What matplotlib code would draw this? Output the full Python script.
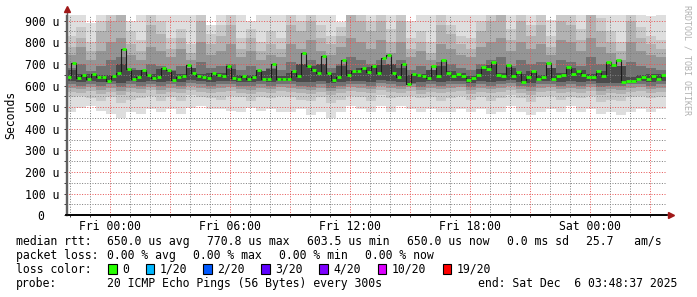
import numpy as np
import matplotlib
matplotlib.use("Agg")
import matplotlib.pyplot as plt
from matplotlib.patches import Rectangle
from matplotlib.lines import Line2D

W, H = 697, 297
MONO = "DejaVu Sans Mono"
FS = 8.3

# time in hours relative to Fri 00:00 (end = Sat 03:48:37)
t_start = -2.1897
t_end = 27.8103

# median rtt in microseconds, one value per 15 minutes
median_us = [638, 705, 636, 650, 630, 655, 640, 640, 620, 645, 660, 770, 675, 630, 640, 670, 650, 635, 640, 680,
             670, 625, 640, 645, 697, 660, 645, 640, 635, 660, 650, 645, 690, 635, 632, 645, 630, 640, 672, 632,
             630, 700, 632, 632, 628, 665, 645, 752, 690, 672, 660, 735, 660, 625, 640, 720, 650, 665, 666, 680,
             662, 688, 660, 728, 740, 660, 640, 700, 608, 655, 648, 642, 635, 690, 645, 716, 660, 645, 655, 645,
             625, 635, 650, 686, 675, 709, 648, 645, 693, 645, 662, 618, 640, 665, 632, 640, 705, 632, 642, 650,
             686, 655, 666, 650, 640, 640, 668, 645, 709, 693, 716, 618, 622, 620, 632, 640, 632, 645, 632, 650]

# smoke bands (low / high edge), one value per 30 minutes, microseconds; a = outermost
lo_a = [478, 495, 505, 480, 470, 450, 478, 470, 490, 478, 490, 470, 495, 505, 490, 490, 480, 478, 495, 480,
        492, 478, 478, 492, 465, 478, 450, 478, 505, 492, 478, 505, 478, 505, 492, 478, 492, 478, 478, 492,
        478, 492, 470, 478, 505, 478, 465, 478, 492, 478, 505, 478, 492, 470, 478, 465, 478, 492, 478, 492]
hi_a = [940, 940, 890, 940, 940, 940, 900, 940, 940, 940, 940, 940, 940, 940, 880, 940, 910, 940, 900, 940,
        940, 940, 870, 940, 940, 940, 940, 895, 940, 940, 940, 940, 940, 940, 900, 940, 940, 910, 940, 940,
        940, 940, 940, 940, 940, 940, 940, 940, 905, 940, 940, 940, 890, 940, 940, 940, 900, 940, 920, 940]
lo_b = [545, 550, 540, 530, 545, 520, 535, 540, 550, 530, 545, 530, 555, 545, 540, 535, 550, 545, 530, 545,
        540, 550, 545, 535, 530, 545, 520, 535, 550, 545, 530, 555, 540, 545, 550, 540, 545, 530, 540, 550,
        535, 545, 530, 540, 555, 540, 525, 545, 550, 535, 545, 540, 550, 525, 535, 530, 545, 550, 540, 545]
hi_b = [830, 870, 800, 900, 940, 940, 850, 810, 940, 900, 820, 860, 790, 940, 840, 880, 940, 820, 860, 800,
        850, 820, 940, 900, 940, 880, 830, 870, 940, 940, 900, 940, 860, 940, 820, 850, 800, 940, 880, 830,
        820, 900, 940, 940, 860, 940, 880, 940, 830, 940, 940, 860, 940, 910, 850, 800, 940, 870, 830, 810]
lo_c = [570, 565, 575, 560, 570, 555, 570, 565, 580, 560, 570, 565, 580, 570, 565, 570, 575, 565, 560, 570,
        565, 575, 570, 565, 560, 570, 555, 565, 575, 570, 565, 580, 570, 565, 575, 560, 570, 565, 570, 575,
        560, 570, 565, 570, 580, 565, 555, 570, 575, 565, 570, 565, 575, 555, 565, 560, 570, 575, 565, 570]
hi_c = [780, 820, 760, 850, 900, 940, 790, 760, 880, 840, 770, 820, 750, 900, 790, 830, 880, 770, 820, 760,
        790, 770, 880, 850, 900, 820, 790, 830, 940, 900, 850, 900, 800, 900, 770, 800, 750, 880, 840, 790,
        770, 850, 900, 940, 810, 900, 830, 880, 780, 900, 880, 810, 940, 850, 800, 760, 900, 820, 790, 770]
lo_d = [590, 585, 595, 580, 590, 575, 590, 585, 595, 580, 590, 585, 600, 590, 585, 590, 595, 585, 580, 590,
        585, 595, 590, 585, 580, 590, 575, 585, 595, 590, 585, 600, 590, 585, 595, 580, 590, 585, 590, 595,
        580, 590, 585, 590, 600, 585, 575, 590, 595, 585, 590, 585, 595, 575, 585, 580, 590, 595, 585, 590]
hi_d = [740, 780, 720, 760, 800, 820, 740, 720, 780, 760, 730, 770, 720, 800, 740, 760, 790, 730, 760, 720,
        740, 730, 790, 770, 810, 760, 740, 780, 820, 800, 770, 810, 750, 800, 730, 760, 720, 790, 770, 740,
        730, 780, 800, 820, 760, 800, 770, 790, 740, 810, 800, 760, 820, 780, 750, 720, 800, 760, 740, 730]
lo_e = [605, 600, 608, 598, 605, 592, 605, 600, 608, 598, 605, 600, 610, 605, 598, 605, 608, 600, 598, 605,
        600, 608, 605, 600, 595, 605, 588, 600, 608, 605, 600, 610, 605, 600, 608, 595, 605, 600, 605, 608,
        595, 605, 600, 605, 610, 600, 592, 605, 608, 600, 605, 600, 608, 592, 600, 598, 605, 608, 600, 605]
hi_e = [680, 700, 665, 690, 720, 730, 680, 670, 700, 690, 670, 690, 665, 710, 680, 690, 700, 670, 690, 665,
        680, 670, 710, 700, 720, 690, 680, 700, 730, 720, 700, 720, 690, 720, 670, 690, 665, 710, 700, 680,
        670, 700, 720, 730, 690, 720, 700, 710, 680, 720, 710, 690, 730, 700, 685, 665, 710, 690, 680, 670]
lo_f = [620, 618, 622, 615, 620, 612, 620, 618, 622, 615, 620, 618, 625, 620, 615, 620, 622, 618, 615, 620,
        618, 622, 620, 618, 615, 620, 610, 618, 622, 620, 618, 625, 620, 618, 612, 615, 620, 618, 620, 622,
        612, 620, 618, 620, 625, 615, 610, 620, 622, 618, 620, 618, 622, 610, 612, 612, 620, 622, 618, 620]
hi_f = [670, 655, 655, 650, 650, 700, 670, 670, 655, 675, 665, 655, 680, 655, 660, 660, 675, 650, 648, 665,
        675, 645, 660, 700, 690, 700, 660, 690, 670, 680, 685, 695, 700, 680, 650, 655, 670, 690, 665, 660,
        645, 675, 695, 660, 680, 655, 665, 650, 680, 660, 680, 670, 652, 665, 700, 690, 640, 650, 652, 655]

band_colors = ["#dedede", "#c9c9c9", "#b2b2b2", "#959595", "#727272", "#4a4a4a"]

y_ticks = [0, 100, 200, 300, 400, 500, 600, 700, 800, 900]
y_labels = ["0  ", "100 u", "200 u", "300 u", "400 u", "500 u", "600 u", "700 u", "800 u", "900 u"]
x_label_hours = [0, 6, 12, 18, 24]
x_labels = ["Fri 00:00", "Fri 06:00", "Fri 12:00", "Fri 18:00", "Sat 00:00"]

loss_labels = ["0", "1/20", "2/20", "3/20", "4/20", "10/20", "19/20"]
loss_colors = ["#26ff00", "#00b8ff", "#0059ff", "#5e00ff", "#7e00ff", "#dd00ff", "#ff0000"]

stats_rtt = ["650.0 us avg", "770.8 us max", "603.5 us min", "650.0 us now", "0.0 ms sd", "25.7   am/s"]
stats_loss = ["0.00 % avg", "0.00 % max", "0.00 % min", "0.00 % now"]
probe_text = "20 ICMP Echo Pings (56 Bytes) every 300s"
end_text = "end: Sat Dec  6 03:48:37 2025"


def fx(px):
    return px / W


def fy(py):
    return 1 - py / H


fig = plt.figure(figsize=(W / 100, H / 100), dpi=100)
ax = fig.add_axes([fx(66), fy(215.3), 600 / W, 200.3 / H])

# smoke, outer (light) to inner (dark)
edges = np.linspace(t_start, t_end, len(lo_a) + 1)
bands = [(lo_a, hi_a), (lo_b, hi_b), (lo_c, hi_c), (lo_d, hi_d), (lo_e, hi_e), (lo_f, hi_f)]
for (lo, hi), col in zip(bands, band_colors):
    ax.fill_between(edges, np.append(lo, lo[-1]), np.append(hi, hi[-1]),
                    step="post", color=col, linewidth=0, zorder=1)

# median line
step_h = (t_end - t_start) / len(median_us)
t_med = t_start + step_h * (np.arange(len(median_us)) + 0.5)
ax.step(t_med, median_us, where="mid", color="#1a1a1a", lw=0.8, zorder=3)
ax.hlines(median_us, t_med - step_h * 0.4, t_med + step_h * 0.4, color=loss_colors[0], lw=2.0, zorder=4)

ax.set_xlim(t_start, t_end)
ax.set_ylim(0, 926)

# grid on top of the smoke, like rrdtool
ax.set_axisbelow(False)
ax.set_xticks(np.arange(0, 28, 3))
ax.set_xticklabels([x_labels[x_label_hours.index(h)] if h in x_label_hours else "" for h in range(0, 28, 3)])
ax.set_xticks(np.arange(-2, 28, 1), minor=True)
ax.set_yticks(y_ticks)
ax.set_yticklabels(y_labels)
ax.set_yticks(np.arange(50, 926, 100), minor=True)
ax.grid(which="major", color=(0.9, 0.35, 0.35, 0.3), linestyle=(0, (1, 1.6)), lw=0.72, zorder=2.5)
ax.grid(which="minor", color=(0.5, 0.5, 0.5, 0.28), linestyle=(0, (1, 1.6)), lw=0.72, zorder=2.5)

ax.tick_params(which="both", direction="out", length=1.6, width=0.7, color="#404040")
ax.tick_params(axis="y", pad=3.4, labelsize=FS)
ax.tick_params(axis="x", pad=1.5, labelsize=FS)
for lab in ax.get_xticklabels() + ax.get_yticklabels():
    lab.set_fontfamily(MONO)

for s in ["top", "right"]:
    ax.spines[s].set_visible(False)
ax.spines["left"].set_color("#606060")
ax.spines["left"].set_linewidth(1.0)
ax.spines["bottom"].set_color("black")
ax.spines["bottom"].set_linewidth(1.2)

# axis extensions and arrows
fig.add_artist(Line2D([fx(66.5), fx(66.5)], [fy(215.3), fy(10)], color="#606060", lw=1.0))
fig.add_artist(Line2D([fx(66), fx(670)], [fy(215.3), fy(215.3)], color="black", lw=1.2))
fig.add_artist(Line2D([fx(66.5)], [fy(9)], marker="^", color="#a01818", markersize=4, lw=0))
fig.add_artist(Line2D([fx(671)], [fy(215.3)], marker=">", color="#a01818", markersize=4, lw=0))

fig.text(fx(11), fy(115), "Seconds", rotation=90, ha="center", va="center", family=MONO, fontsize=FS)
fig.text(fx(686.5), fy(60), "RRDTOOL / TOBI OETIKER", rotation=270, ha="center", va="center",
         family=MONO, fontsize=6, color="#b0b0b0")


# legend block under the graph
def t(x, y, s):
    fig.text(fx(x), fy(y), s, ha="left", va="center", family=MONO, fontsize=FS)


t(16, 241.3, "median rtt:")
for x, s in zip([107.3, 207.3, 306.7, 406.7, 506.7, 585.9], stats_rtt):
    t(x, 241.3, s)
t(16, 255.5, "packet loss:")
for x, s in zip([107.3, 193.3, 279.3, 365.3], stats_loss):
    t(x, 255.5, s)
t(16, 269.3, "loss color:")
for x, s, c in zip([108.3, 145.7, 203.3, 261, 319.3, 377.7, 442.7], loss_labels, loss_colors):
    fig.add_artist(Rectangle((fx(x), fy(273.5)), 8.5 / W, 10 / H, facecolor=c, edgecolor="black", lw=0.8))
    t(x + 14.3, 269.3, s)
t(16, 283.7, "probe:")
t(107.3, 283.7, probe_text)
t(478, 283.7, end_text)

fig.savefig("out.png", dpi=100)
